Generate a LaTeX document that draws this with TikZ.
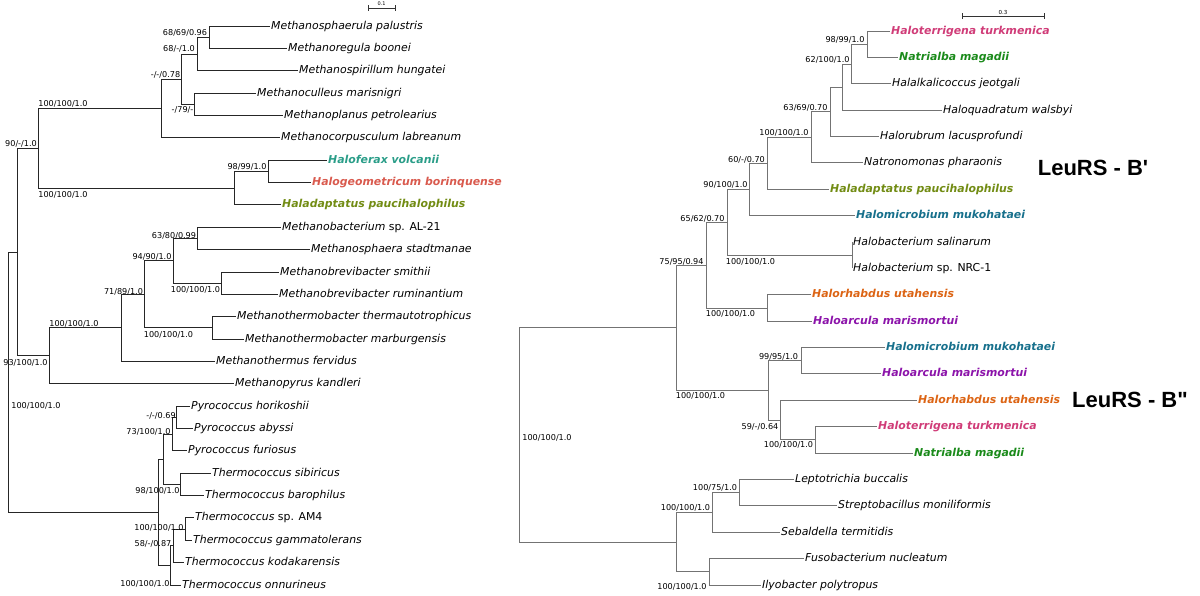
\documentclass[tikz,border=0pt]{standalone}
\usepackage{fontspec}
\setmainfont{DejaVu Sans}
\newfontfamily\headfont{Liberation Sans}
\usetikzlibrary{positioning}
\definecolor{haloteal}{HTML}{2A9D88}
\definecolor{halosalmon}{HTML}{D95A4E}
\definecolor{haloolive}{HTML}{728C14}
\definecolor{halopink}{HTML}{D03C78}
\definecolor{halogreen}{HTML}{1A8A1A}
\definecolor{haloblue}{HTML}{17708C}
\definecolor{haloorange}{HTML}{DC6414}
\definecolor{halopurple}{HTML}{8C14AA}

\begin{document}
\begin{tikzpicture}[x=1pt,y=-1pt,
    leaf/.style={anchor=west, inner sep=1pt, text height=8pt, text depth=2pt,
      font=\fontsize{10.9}{12}\selectfont\itshape},
    halo/.style={leaf, font=\fontsize{10.9}{12}\selectfont\bfseries\itshape},
    supp/.style={inner sep=0pt, text height=6pt, text depth=0pt,
      font=\fontsize{8.1}{9}\selectfont},
    ltree/.style={line width=0.95pt, black!85},
    rtree/.style={line width=0.85pt, black!55},
    scalebar/.style={line width=0.8pt, black!80},
    clade/.style={font=\headfont\bfseries\fontsize{22}{24}\selectfont}]

    \useasboundingbox (0,0) rectangle (1200,595);

    % =====================
    % Left tree: inner nodes
    % =====================
    \coordinate (L0) at (8,382.2);
    \coordinate (L1) at (17,252.1);
    \coordinate (L2) at (38,148.3);
    \coordinate (L3) at (161,108.5);
    \coordinate (L4) at (181,79.1);
    \coordinate (L5) at (197,54);
    \coordinate (L6) at (194,104.3);
    \coordinate (L7) at (209,37.2);
    \coordinate (H0) at (234,188.1);
    \coordinate (H1) at (268,171.4);
    \coordinate (M0) at (49,355.9);
    \coordinate (M1) at (121,327.9);
    \coordinate (M2) at (144,294.4);
    \coordinate (M3) at (173,260.8);
    \coordinate (M4) at (212,327.9);
    \coordinate (M5) at (197,238.4);
    \coordinate (M6) at (221,283.2);
    \coordinate (T0) at (158,512.3);
    \coordinate (T1) at (163,459.2);
    \coordinate (T2) at (172,434);
    \coordinate (T3) at (176,417.3);
    \coordinate (T4) at (180,484.4);
    \coordinate (T5) at (170,565.5);
    \coordinate (T6) at (173,545.9);
    \coordinate (T7) at (185,529.1);

    % =====================
    % Left tree: leaves
    % =====================
    \node[leaf] (mpal) at (270,26) {Methanosphaerula palustris};
    \node[leaf] (mboo) at (287,48.4) {Methanoregula boonei};
    \node[leaf] (mhun) at (298,70.7) {Methanospirillum hungatei};
    \node[leaf] (mmar) at (256,93.1) {Methanoculleus marisnigri};
    \node[leaf] (mpet) at (283,115.4) {Methanoplanus petrolearius};
    \node[leaf] (mlab) at (280,137.8) {Methanocorpusculum labreanum};
    \node[halo, haloteal] (hvol) at (327,160.2) {Haloferax volcanii};
    \node[halo, halosalmon] (hbor) at (311,182.5) {Halogeometricum borinquense};
    \node[halo, haloolive] (hpau) at (281,204.9) {Haladaptatus paucihalophilus};
    \node[leaf] (mal) at (281,227.2) {Methanobacterium {\upshape sp. AL-21}};
    \node[leaf] (msta) at (310,249.6) {Methanosphaera stadtmanae};
    \node[leaf] (msmi) at (279,272) {Methanobrevibacter smithii};
    \node[leaf] (mrum) at (278,294.3) {Methanobrevibacter ruminantium};
    \node[leaf] (mthe) at (236,316.7) {Methanothermobacter thermautotrophicus};
    \node[leaf] (mmbg) at (244,339) {Methanothermobacter marburgensis};
    \node[leaf] (mfer) at (215,361.4) {Methanothermus fervidus};
    \node[leaf] (mkan) at (234,383.8) {Methanopyrus kandleri};
    \node[leaf] (phor) at (190,406.1) {Pyrococcus horikoshii};
    \node[leaf] (paby) at (193,428.5) {Pyrococcus abyssi};
    \node[leaf] (pfur) at (187,450.8) {Pyrococcus furiosus};
    \node[leaf] (tsib) at (211,473.2) {Thermococcus sibiricus};
    \node[leaf] (tbar) at (204,495.6) {Thermococcus barophilus};
    \node[leaf] (tam) at (194,517.9) {Thermococcus {\upshape sp. AM4}};
    \node[leaf] (tgam) at (192,540.3) {Thermococcus gammatolerans};
    \node[leaf] (tkod) at (184,562.6) {Thermococcus kodakarensis};
    \node[leaf] (tonn) at (181,585) {Thermococcus onnurineus};

    % =====================
    % Left tree: branches
    % =====================
    \draw[ltree] (L0) |- (L1) (L0) |- (T0);
    \draw[ltree] (L1) |- (L2) (L1) |- (M0);
    \draw[ltree] (L2) |- (L3) (L2) |- (H0);
    \draw[ltree] (L3) |- (L4) (L3) |- (mlab.west);
    \draw[ltree] (L4) |- (L5) (L4) |- (L6);
    \draw[ltree] (L5) |- (L7) (L5) |- (mhun.west);
    \draw[ltree] (L7) |- (mpal.west) (L7) |- (mboo.west);
    \draw[ltree] (L6) |- (mmar.west) (L6) |- (mpet.west);
    \draw[ltree] (H0) |- (H1) (H0) |- (hpau.west);
    \draw[ltree] (H1) |- (hvol.west) (H1) |- (hbor.west);
    \draw[ltree] (M0) |- (M1) (M0) |- (mkan.west);
    \draw[ltree] (M1) |- (M2) (M1) |- (mfer.west);
    \draw[ltree] (M2) |- (M3) (M2) |- (M4);
    \draw[ltree] (M3) |- (M5) (M3) |- (M6);
    \draw[ltree] (M5) |- (mal.west) (M5) |- (msta.west);
    \draw[ltree] (M6) |- (msmi.west) (M6) |- (mrum.west);
    \draw[ltree] (M4) |- (mthe.west) (M4) |- (mmbg.west);
    \draw[ltree] (T0) |- (T1) (T0) |- (T5);
    \draw[ltree] (T1) |- (T2) (T1) |- (T4);
    \draw[ltree] (T2) |- (T3) (T2) |- (pfur.west);
    \draw[ltree] (T3) |- (phor.west) (T3) |- (paby.west);
    \draw[ltree] (T4) |- (tsib.west) (T4) |- (tbar.west);
    \draw[ltree] (T5) |- (T6) (T5) |- (tonn.west);
    \draw[ltree] (T6) |- (T7) (T6) |- (tkod.west);
    \draw[ltree] (T7) |- (tam.west) (T7) |- (tgam.west);

    % =====================
    % Left tree: support values
    % =====================
    \node[supp] (sL7) at (185,32) {68/69/0.96};
    \node[supp] (sL5) at (179,48) {68/-/1.0};
    \node[supp] (sL4) at (165.5,74) {-/-/0.78};
    \node[supp] (sL6) at (182.5,109) {-/79/-};
    \node[supp] (sL3) at (63,103) {100/100/1.0};
    \node[supp] (sL2) at (21,143) {90/-/1.0};
    \node[supp] (sH0) at (63,194) {100/100/1.0};
    \node[supp] (sH1) at (247,166) {98/99/1.0};
    \node[supp] (sM5) at (174,235) {63/80/0.99};
    \node[supp] (sM3) at (152,256) {94/90/1.0};
    \node[supp] (sM6) at (195.5,289) {100/100/1.0};
    \node[supp] (sM2) at (123.5,291) {71/89/1.0};
    \node[supp] (sM4) at (168.5,334) {100/100/1.0};
    \node[supp] (sM1) at (74,323) {100/100/1.0};
    \node[supp] (sM0) at (25.5,362) {93/100/1.0};
    \node[supp] (sT0) at (36,405) {100/100/1.0};
    \node[supp] (sT3) at (161,415) {-/-/0.69};
    \node[supp] (sT2) at (148.5,431) {73/100/1.0};
    \node[supp] (sT4) at (157.5,490) {98/100/1.0};
    \node[supp] (sT7) at (159,527) {100/100/1.0};
    \node[supp] (sT6) at (153,543) {58/-/0.87};
    \node[supp] (sT5) at (145,583) {100/100/1.0};

    % scale bar
    \draw[scalebar] (368,5) -- (368,11) (368,8) -- (395,8) (395,5) -- (395,11);
    \node[font=\fontsize{5}{6}\selectfont, inner sep=0pt] (sbl) at (381.5,4) {0.1};

    % =====================
    % Right tree: inner nodes
    % =====================
    \coordinate (R0) at (519,435);
    \coordinate (R1) at (676,327.8);
    \coordinate (R2) at (706,265.2);
    \coordinate (R3) at (727,222.4);
    \coordinate (R4) at (749,189.5);
    \coordinate (R5) at (767,163.3);
    \coordinate (R6) at (811,137.4);
    \coordinate (R7) at (830,111.8);
    \coordinate (R7a) at (842,87);
    \coordinate (R7b) at (851,64);
    \coordinate (R7c) at (867,44.2);
    \coordinate (R8) at (852,255.2);
    \coordinate (R9) at (767,308);
    \coordinate (B0) at (768,390.5);
    \coordinate (B1) at (801,360.8);
    \coordinate (B2) at (780,420.1);
    \coordinate (B3) at (815,439.9);
    \coordinate (F0) at (676,542.2);
    \coordinate (F1) at (712,512.5);
    \coordinate (F2) at (739,492.7);
    \coordinate (F3) at (709,571.8);

    % =====================
    % Right tree: leaves
    % =====================
    \node[halo, halopink] (htur) at (890,31) {Haloterrigena turkmenica};
    \node[halo, halogreen] (nmag) at (898,57.4) {Natrialba magadii};
    \node[leaf] (hjeo) at (891,83.8) {Halalkalicoccus jeotgali};
    \node[leaf] (hwal) at (942,110.1) {Haloquadratum walsbyi};
    \node[leaf] (hlac) at (879,136.5) {Halorubrum lacusprofundi};
    \node[leaf] (npha) at (863,162.9) {Natronomonas pharaonis};
    \node[halo, haloolive] (hpau2) at (829,189.3) {Haladaptatus paucihalophilus};
    \node[halo, haloblue] (hmuk) at (855,215.7) {Halomicrobium mukohataei};
    \node[leaf] (hsal) at (852,242) {Halobacterium salinarum};
    \node[leaf] (hnrc) at (852,268.4) {Halobacterium {\upshape sp. NRC-1}};
    \node[halo, haloorange] (huta) at (811,294.8) {Halorhabdus utahensis};
    \node[halo, halopurple] (hmar) at (812,321.2) {Haloarcula marismortui};
    \node[halo, haloblue] (hmuk2) at (885,347.6) {Halomicrobium mukohataei};
    \node[halo, halopurple] (hmar2) at (881,373.9) {Haloarcula marismortui};
    \node[halo, haloorange] (huta2) at (917,400.3) {Halorhabdus utahensis};
    \node[halo, halopink] (htur2) at (877,426.7) {Haloterrigena turkmenica};
    \node[halo, halogreen] (nmag2) at (913,453.1) {Natrialba magadii};
    \node[leaf] (lbuc) at (794,479.5) {Leptotrichia buccalis};
    \node[leaf] (smon) at (837,505.8) {Streptobacillus moniliformis};
    \node[leaf] (ster) at (780,532.2) {Sebaldella termitidis};
    \node[leaf] (fnuc) at (804,558.6) {Fusobacterium nucleatum};
    \node[leaf] (ipol) at (761,585) {Ilyobacter polytropus};

    % =====================
    % Right tree: branches
    % =====================
    \draw[rtree] (R0) |- (R1) (R0) |- (F0);
    \draw[rtree] (R1) |- (R2) (R1) |- (B0);
    \draw[rtree] (R2) |- (R3) (R2) |- (R9);
    \draw[rtree] (R3) |- (R4) (R3) |- (R8);
    \draw[rtree] (R4) |- (R5) (R4) |- (hmuk.west);
    \draw[rtree] (R5) |- (R6) (R5) |- (hpau2.west);
    \draw[rtree] (R6) |- (R7) (R6) |- (npha.west);
    \draw[rtree] (R7) |- (R7a) (R7) |- (hlac.west);
    \draw[rtree] (R7a) |- (R7b) (R7a) |- (hwal.west);
    \draw[rtree] (R7b) |- (R7c) (R7b) |- (hjeo.west);
    \draw[rtree] (R7c) |- (htur.west) (R7c) |- (nmag.west);
    \draw[rtree] (R8) |- (hsal.west) (R8) |- (hnrc.west);
    \draw[rtree] (R9) |- (huta.west) (R9) |- (hmar.west);
    \draw[rtree] (B0) |- (B1) (B0) |- (B2);
    \draw[rtree] (B1) |- (hmuk2.west) (B1) |- (hmar2.west);
    \draw[rtree] (B2) |- (huta2.west) (B2) |- (B3);
    \draw[rtree] (B3) |- (htur2.west) (B3) |- (nmag2.west);
    \draw[rtree] (F0) |- (F1) (F0) |- (F3);
    \draw[rtree] (F1) |- (F2) (F1) |- (ster.west);
    \draw[rtree] (F2) |- (lbuc.west) (F2) |- (smon.west);
    \draw[rtree] (F3) |- (fnuc.west) (F3) |- (ipol.west);

    % =====================
    % Right tree: support values
    % =====================
    \node[supp] (sR7c) at (845,39) {98/99/1.0};
    \node[supp] (sR7b) at (827.5,59) {62/100/1.0};
    \node[supp] (sR7) at (805.5,107) {63/69/0.70};
    \node[supp] (sR6) at (784,132) {100/100/1.0};
    \node[supp] (sR5) at (746.5,159) {60/-/0.70};
    \node[supp] (sR4) at (725.5,184) {90/100/1.0};
    \node[supp] (sR3) at (702.5,218) {65/62/0.70};
    \node[supp] (sR8) at (750.5,261) {100/100/1.0};
    \node[supp] (sR2) at (681.5,261) {75/95/0.94};
    \node[supp] (sR9) at (730.5,313) {100/100/1.0};
    \node[supp] (sB1) at (778.5,356) {99/95/1.0};
    \node[supp] (sB0) at (700.5,395) {100/100/1.0};
    \node[supp] (sB2) at (760,426) {59/-/0.64};
    \node[supp] (sB3) at (788.5,444) {100/100/1.0};
    \node[supp] (sR0) at (547,437) {100/100/1.0};
    \node[supp] (sF2) at (715,487) {100/75/1.0};
    \node[supp] (sF1) at (685.5,507) {100/100/1.0};
    \node[supp] (sF3) at (682,586) {100/100/1.0};

    % scale bar
    \draw[scalebar] (962,13) -- (962,19) (962,16) -- (1044,16) (1044,13) -- (1044,19);
    \node[font=\fontsize{5.5}{6}\selectfont, inner sep=0pt] (sbr) at (1003,12.5) {0.3};

    % clade names
    \node[clade] (bone) at (1093,168) {LeuRS - B\textquotesingle};
    \node[clade] (btwo) at (1130,400) {LeuRS - B"};

\end{tikzpicture}
\end{document}
